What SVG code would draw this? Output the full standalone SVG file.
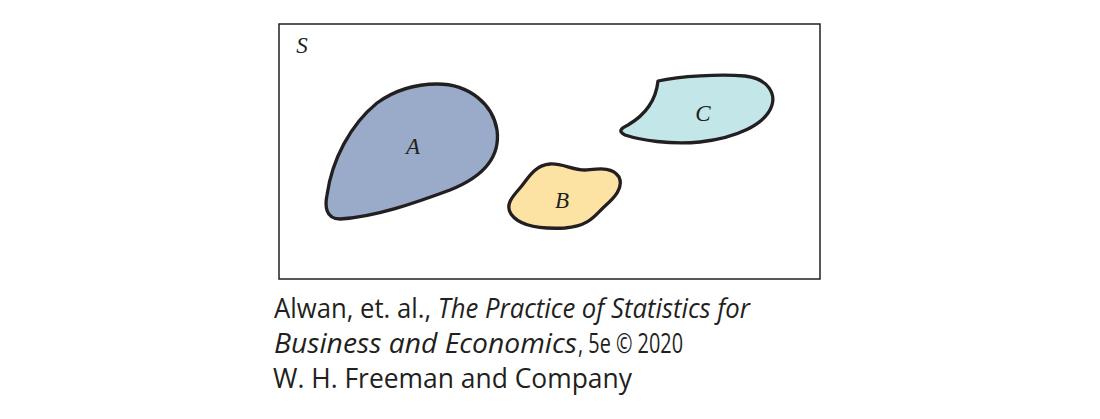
<svg xmlns="http://www.w3.org/2000/svg" width="1100" height="419" viewBox="0 0 1100 419">
  <style>
    .shape { stroke: #231f20; stroke-width: 3.3; stroke-linejoin: round; }
    .lbl { font-family: "Liberation Serif", "DejaVu Serif", serif; font-style: italic; font-size: 23px; fill: #231f20; text-anchor: middle; }
    .cap { font-family: "Open Sans", "Noto Sans", "Liberation Sans", sans-serif; font-size: 27px; fill: #231f20; }
    .it { font-style: italic; }
  </style>
  <rect x="0" y="0" width="1100" height="419" fill="#ffffff"/>
  <g id="sample-space">
    <rect x="279" y="24" width="541" height="255" fill="none" stroke="#231f20" stroke-width="1.5"/>
    <text class="lbl" x="302" y="53" font-size="20">S</text>
  </g>
  <g id="event-A">
    <path class="shape" fill="#99abc8" d="M 437,84 C 470,84 493,105 497,130 C 501,160 480,178 450,190 C 415,203 375,217 340,219 C 325,219 325,205 327,195 C 332,160 350,125 377,103 C 395,90 415,84 437,84 Z"/>
    <text class="lbl" x="413" y="154">A</text>
  </g>
  <g id="event-B">
    <path class="shape" fill="#fde3a3" d="M 550,164 C 562,163 572,170 585,170 C 598,169 612,166 619,177 C 624,188 614,198 605,206 C 595,215 590,226 565,228 C 545,229 520,227 511,214 C 505,205 512,197 520,188 C 527,180 534,165 550,164 Z"/>
    <text class="lbl" x="562" y="208">B</text>
  </g>
  <g id="event-C">
    <path class="shape" fill="#c3e6e8" d="M 658,81 C 680,76 720,74 745,76 C 770,79 775,95 772,105 C 766,125 735,138 700,142 C 670,145 640,140 625,135 C 617,131 622,128 628,125 C 645,115 656,100 658,81 Z"/>
    <text class="lbl" x="703" y="121">C</text>
  </g>
  <g id="connectors"></g>
  <g id="caption">
    <text class="cap" x="274" y="318" textLength="476" lengthAdjust="spacingAndGlyphs">Alwan, et. al., <tspan class="it">The Practice of Statistics for</tspan></text>
    <text class="cap it" x="274" y="353" textLength="303" lengthAdjust="spacingAndGlyphs">Business and Economics</text>
    <text class="cap" x="578" y="353" textLength="105" lengthAdjust="spacingAndGlyphs">, 5e © 2020</text>
    <text class="cap" x="273" y="388" textLength="359" lengthAdjust="spacingAndGlyphs">W. H. Freeman and Company</text>
  </g>
</svg>
